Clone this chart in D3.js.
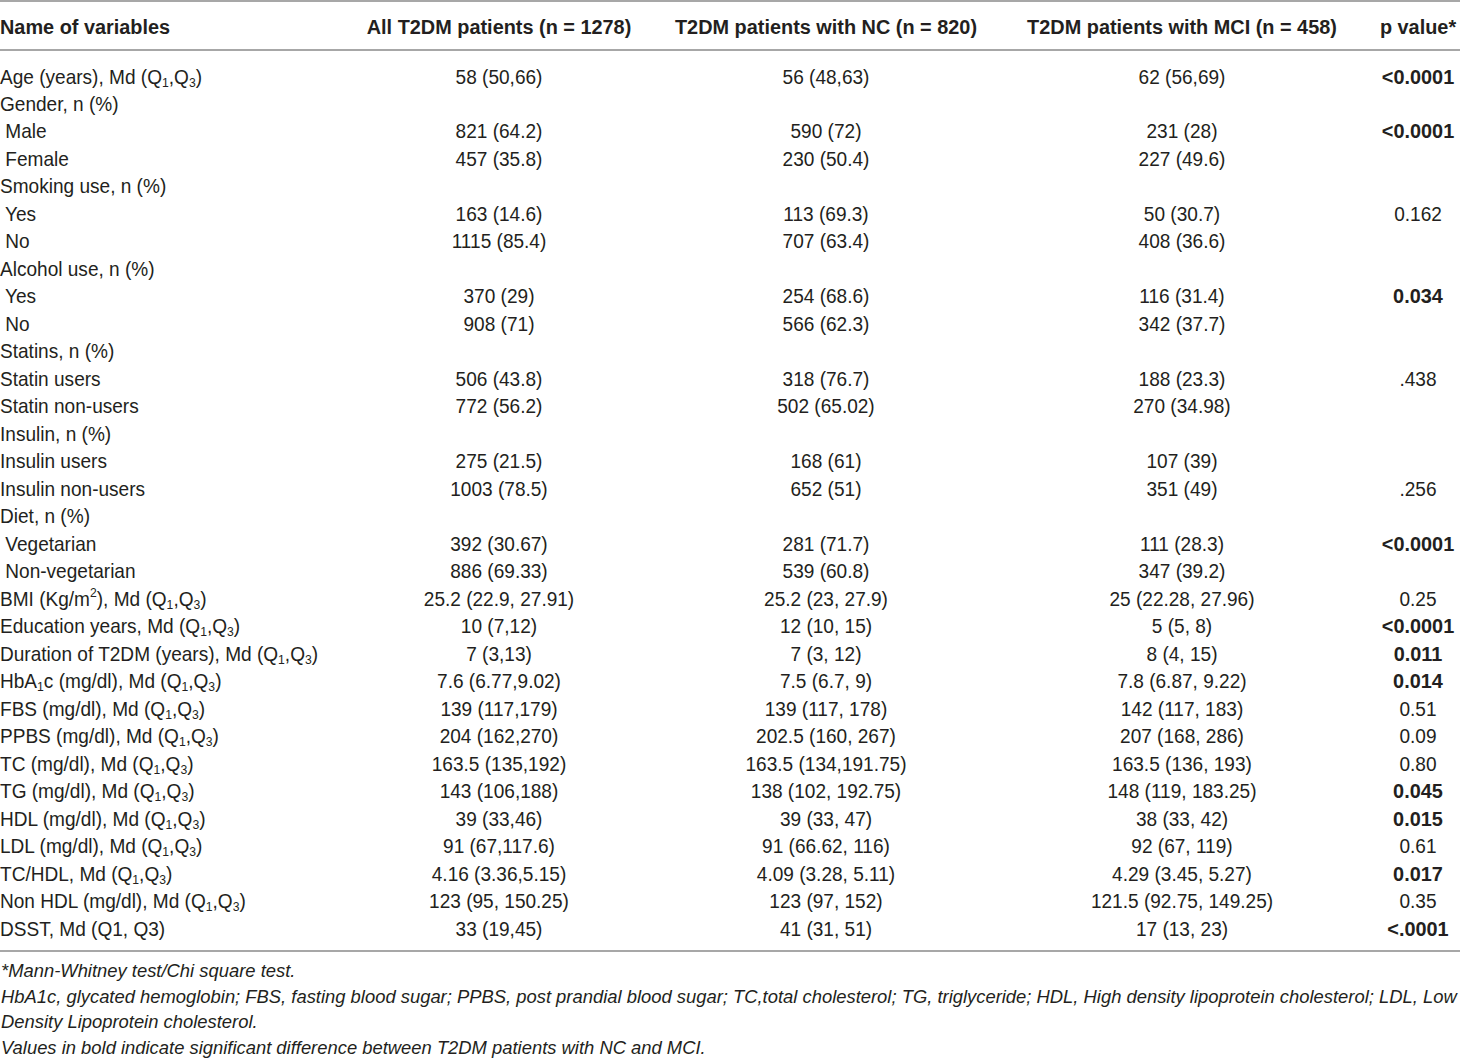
<!DOCTYPE html>
<html>
<head>
<meta charset="utf-8">
<script src="https://cdn.jsdelivr.net/npm/d3@7"></script>
<style>
  html, body { margin: 0; padding: 0; background: #fff; }
  svg { display: block; }
  text { font-family: "Liberation Sans", Arial, Helvetica, sans-serif; fill: #231f20; }
</style>
</head>
<body>
<svg id="chart" width="1460" height="1060"></svg>
<script>
// header labels
const headers = ["Name of variables", "All T2DM patients (n = 1278)", "T2DM patients with NC (n = 820)",
    "T2DM patients with MCI (n = 458)", "p value*"];

// row labels ("_" = subscript next char, "^" = superscript next char)
const variables = [
    "Age (years), Md (Q_1,Q_3)", "Gender, n (%)", " Male", " Female", "Smoking use, n (%)", " Yes", " No",
    "Alcohol use, n (%)", " Yes", " No", "Statins, n (%)", "Statin users", "Statin non-users", "Insulin, n (%)",
    "Insulin users", "Insulin non-users", "Diet, n (%)", " Vegetarian", " Non-vegetarian",
    "BMI (Kg/m^2), Md (Q_1,Q_3)", "Education years, Md (Q_1,Q_3)", "Duration of T2DM (years), Md (Q_1,Q_3)",
    "HbA_1c (mg/dl), Md (Q_1,Q_3)", "FBS (mg/dl), Md (Q_1,Q_3)", "PPBS (mg/dl), Md (Q_1,Q_3)",
    "TC (mg/dl), Md (Q_1,Q_3)", "TG (mg/dl), Md (Q_1,Q_3)", "HDL (mg/dl), Md (Q_1,Q_3)",
    "LDL (mg/dl), Md (Q_1,Q_3)", "TC/HDL, Md (Q_1,Q_3)", "Non HDL (mg/dl), Md (Q_1,Q_3)", "DSST, Md (Q1, Q3)"
];

const allPatients = [
    "58 (50,66)", "", "821 (64.2)", "457 (35.8)", "", "163 (14.6)", "1115 (85.4)", "", "370 (29)", "908 (71)",
    "", "506 (43.8)", "772 (56.2)", "", "275 (21.5)", "1003 (78.5)", "", "392 (30.67)", "886 (69.33)",
    "25.2 (22.9, 27.91)", "10 (7,12)", "7 (3,13)", "7.6 (6.77,9.02)", "139 (117,179)", "204 (162,270)",
    "163.5 (135,192)", "143 (106,188)", "39 (33,46)", "91 (67,117.6)", "4.16 (3.36,5.15)",
    "123 (95, 150.25)", "33 (19,45)"
];

const ncPatients = [
    "56 (48,63)", "", "590 (72)", "230 (50.4)", "", "113 (69.3)", "707 (63.4)", "", "254 (68.6)", "566 (62.3)",
    "", "318 (76.7)", "502 (65.02)", "", "168 (61)", "652 (51)", "", "281 (71.7)", "539 (60.8)",
    "25.2 (23, 27.9)", "12 (10, 15)", "7 (3, 12)", "7.5 (6.7, 9)", "139 (117, 178)", "202.5 (160, 267)",
    "163.5 (134,191.75)", "138 (102, 192.75)", "39 (33, 47)", "91 (66.62, 116)", "4.09 (3.28, 5.11)",
    "123 (97, 152)", "41 (31, 51)"
];

const mciPatients = [
    "62 (56,69)", "", "231 (28)", "227 (49.6)", "", "50 (30.7)", "408 (36.6)", "", "116 (31.4)", "342 (37.7)",
    "", "188 (23.3)", "270 (34.98)", "", "107 (39)", "351 (49)", "", "111 (28.3)", "347 (39.2)",
    "25 (22.28, 27.96)", "5 (5, 8)", "8 (4, 15)", "7.8 (6.87, 9.22)", "142 (117, 183)", "207 (168, 286)",
    "163.5 (136, 193)", "148 (119, 183.25)", "38 (33, 42)", "92 (67, 119)", "4.29 (3.45, 5.27)",
    "121.5 (92.75, 149.25)", "17 (13, 23)"
];

const pValues = [
    "<0.0001", "", "<0.0001", "", "", "0.162", "", "", "0.034", "", "", ".438", "", "", "", ".256", "",
    "<0.0001", "", "0.25", "<0.0001", "0.011", "0.014", "0.51", "0.09", "0.80", "0.045", "0.015", "0.61",
    "0.017", "0.35", "<.0001"
];

// significant p values (bold)
const significant = [
    true, false, true, false, false, false, false, false, true, false, false, false, false, false, false, false,
    false, true, false, false, true, true, true, false, false, false, true, true, false, true, false, true
];

const footnotes = [
    "*Mann-Whitney test/Chi square test.",
    "HbA1c, glycated hemoglobin; FBS, fasting blood sugar; PPBS, post prandial blood sugar; TC,total cholesterol; TG, triglyceride; HDL, High density lipoprotein cholesterol; LDL, Low",
    "Density Lipoprotein cholesterol.",
    "Values in bold indicate significant difference between T2DM patients with NC and MCI."
];

const svg = d3.select("#chart");
const W = 1460;
// source font is a bit narrower than Liberation Sans
const squeeze = 0.93;
const squeezeBold = 0.97;
const squeezeFoot = 0.995;

const columns = ["label", "all", "nc", "mci", "p"];
const colX = d3.scaleOrdinal().domain(columns).range([0, 499, 826, 1182, 1418]);
const colAnchor = d3.scaleOrdinal().domain(columns).range(["start", "middle", "middle", "middle", "middle"]);

const rowY = d3.scalePoint().domain(d3.range(variables.length)).range([76, 928]);

function placeText(sel, x, y, k) {
    return sel.attr("transform", `translate(${x},${y}) scale(${k},1)`);
}

function addRich(textSel, str) {
    // split into plain / sub / sup runs
    let i = 0, buf = "";
    const flush = () => { if (buf) { textSel.append("tspan").text(buf); buf = ""; } };
    while (i < str.length) {
        const c = str[i];
        if ((c === "_" || c === "^") && i + 1 < str.length) {
            flush();
            textSel.append("tspan")
                .attr("font-size", "0.64em")
                .attr("baseline-shift", c === "_" ? "-22%" : "60%")
                .text(str[i + 1]);
            i += 2;
        } else {
            buf += c;
            i++;
        }
    }
    flush();
}

// rules
const lines = [1, 50, 951];
svg.selectAll("line.rule").data(lines).enter().append("line")
    .attr("class", "rule")
    .attr("x1", 0).attr("x2", W)
    .attr("y1", d => d).attr("y2", d => d)
    .attr("stroke", "#a7a7a7")
    .attr("stroke-width", 2);

// header
svg.selectAll("text.header").data(headers).enter().append("text")
    .attr("class", "header")
    .attr("font-size", 20.5)
    .attr("font-weight", "bold")
    .attr("text-anchor", (d, i) => colAnchor(columns[i]))
    .each(function (d, i) { placeText(d3.select(this), colX(columns[i]), 34, squeezeBold); })
    .text(d => d);

// body rows
const rowsData = variables.map((v, i) => ({
    label: v, all: allPatients[i], nc: ncPatients[i], mci: mciPatients[i], p: pValues[i], bold: significant[i]
}));

const rows = svg.selectAll("g.row").data(rowsData).enter().append("g")
    .attr("class", "row");

rows.each(function (d, i) {
    const g = d3.select(this);
    const y = rowY(i) + 7.5;
    columns.forEach(col => {
        if (!d[col]) return;
        const isBold = col === "p" && d.bold;
        const t = g.append("text")
            .attr("font-size", 20.5)
            .attr("text-anchor", colAnchor(col))
            .attr("xml:space", "preserve")
            .attr("font-weight", isBold ? "bold" : "normal");
        placeText(t, colX(col), y, isBold ? squeezeBold : squeeze);
        if (col === "label") addRich(t, d.label);
        else t.text(d[col]);
    });
});

// footnotes
const footY = d3.scalePoint().domain(d3.range(footnotes.length)).range([977, 1054]);
svg.selectAll("text.foot").data(footnotes).enter().append("text")
    .attr("class", "foot")
    .attr("font-size", 18.5)
    .attr("font-style", "italic")
    .each(function (d, i) { placeText(d3.select(this), 1, footY(i), squeezeFoot); })
    .text(d => d);
</script>
</body>
</html>
